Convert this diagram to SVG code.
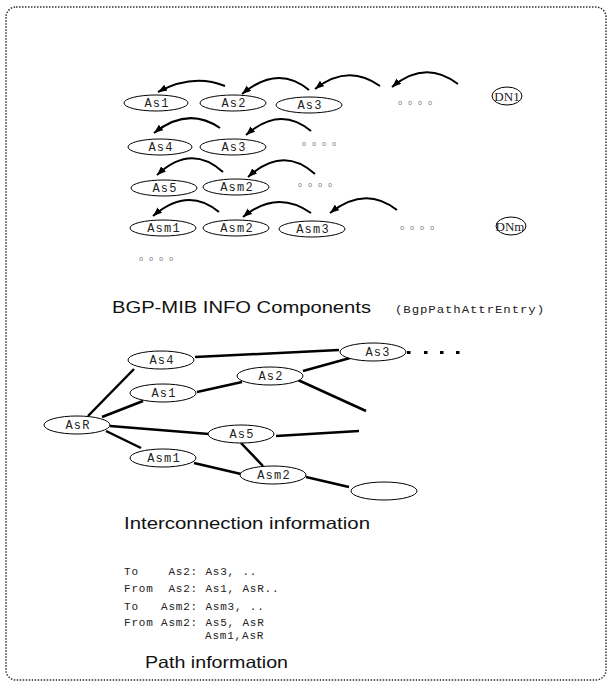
<svg xmlns="http://www.w3.org/2000/svg" width="610" height="686" viewBox="0 0 610 686">
  <style>
    .frame { fill: none; stroke: #333; stroke-width: 1.5; stroke-dasharray: 1.5 1.5; }
    .node { fill: #fff; stroke: #000; stroke-width: 1; }
    .lbl { font-family: "Liberation Mono", "DejaVu Sans Mono", monospace; font-size: 12px; letter-spacing: 1.2px; fill: #222; text-anchor: middle; }
    .dn { font-family: "Liberation Serif", "Times New Roman", serif; font-size: 13px; fill: #222; text-anchor: middle; }
    .more { font-family: "Liberation Mono", monospace; font-size: 7px; letter-spacing: 5.8px; fill: #777; }
    .title { font-family: "Liberation Sans", Arial, sans-serif; font-size: 16.5px; fill: #111; }
    .code { font-family: "Liberation Mono", "DejaVu Sans Mono", monospace; font-size: 11px; letter-spacing: 0.8px; fill: #222; white-space: pre; }
    .arc { fill: none; stroke: #000; stroke-width: 2; marker-end: url(#head); }
    .link { fill: none; stroke: #000; stroke-width: 2.5; }
  </style>
  <defs>
    <marker id="head" markerUnits="userSpaceOnUse" markerWidth="10" markerHeight="8" refX="9" refY="3.5" orient="auto">
      <path d="M0,0 L9,3.5 L0,7 z" fill="#000"/>
    </marker>
  </defs>

  <!-- outer dotted frame -->
  <rect class="frame" x="6" y="7" width="600" height="673" rx="10" ry="10"/>

  <!-- ===== BGP-MIB info components ===== -->
  <g id="components-arcs">
    <path class="arc" d="M225,86 Q193,73 158,92"/>
    <path class="arc" d="M309,90 Q278,64 242,94"/>
    <path class="arc" d="M380,86 Q348,63 315,89"/>
    <path class="arc" d="M458,84 Q425,59 392,87"/>
    <path class="arc" d="M220,128 Q188,106 154,133"/>
    <path class="arc" d="M311,131 Q280,105 246,135"/>
    <path class="arc" d="M223,172 Q191,143 157,175"/>
    <path class="arc" d="M315,174 Q283,145 248,177"/>
    <path class="arc" d="M219,212 Q188,186 153,216"/>
    <path class="arc" d="M311,213 Q277,189 243,217"/>
    <path class="arc" d="M397,210 Q365,185 330,213"/>
  </g>

  <g id="r1-as1"><ellipse class="node" cx="156" cy="103" rx="32" ry="8"/><text class="lbl" x="157" y="107">As1</text></g>
  <g id="r1-as2"><ellipse class="node" cx="233" cy="103" rx="33" ry="8"/><text class="lbl" x="234" y="107">As2</text></g>
  <g id="r1-as3"><ellipse class="node" cx="309" cy="105" rx="33" ry="8"/><text class="lbl" x="310" y="109">As3</text></g>
  <text class="more" x="398" y="105">oooo</text>
  <g id="r1-dn1"><ellipse class="node" cx="507" cy="96" rx="15" ry="9"/><text class="dn" x="507" y="100.5">DN1</text></g>

  <g id="r2-as4"><ellipse class="node" cx="160" cy="147" rx="32" ry="8"/><text class="lbl" x="161" y="151">As4</text></g>
  <g id="r2-as3"><ellipse class="node" cx="233" cy="147" rx="33" ry="8"/><text class="lbl" x="234" y="151">As3</text></g>
  <text class="more" x="302" y="146">oooo</text>

  <g id="r3-as5"><ellipse class="node" cx="164" cy="188" rx="33" ry="8"/><text class="lbl" x="165" y="192">As5</text></g>
  <g id="r3-asm2"><ellipse class="node" cx="236" cy="187" rx="33" ry="8"/><text class="lbl" x="237" y="191">Asm2</text></g>
  <text class="more" x="298" y="187">oooo</text>

  <g id="r4-asm1"><ellipse class="node" cx="163" cy="228" rx="33" ry="8"/><text class="lbl" x="164" y="232">Asm1</text></g>
  <g id="r4-asm2"><ellipse class="node" cx="236" cy="228" rx="33" ry="8"/><text class="lbl" x="237" y="232">Asm2</text></g>
  <g id="r4-asm3"><ellipse class="node" cx="312" cy="229" rx="33" ry="8"/><text class="lbl" x="313" y="233">Asm3</text></g>
  <text class="more" x="400" y="230">oooo</text>
  <g id="r4-dnm"><ellipse class="node" cx="511" cy="226" rx="15" ry="9"/><text class="dn" x="510" y="230.5">DNm</text></g>

  <text class="more" x="139" y="261">oooo</text>

  <text class="title" x="112" y="313" textLength="259" lengthAdjust="spacingAndGlyphs">BGP-MIB INFO Components</text>
  <text class="code" x="395" y="313" font-size="10.5" textLength="150" lengthAdjust="spacingAndGlyphs">(BgpPathAttrEntry)</text>

  <!-- ===== interconnection graph ===== -->
  <g id="links">
    <line class="link" x1="134" y1="369" x2="88" y2="416"/>
    <line class="link" x1="143" y1="401" x2="102" y2="417"/>
    <line class="link" x1="197" y1="392" x2="242" y2="382"/>
    <line class="link" x1="195" y1="357" x2="339" y2="350"/>
    <line class="link" x1="303" y1="371" x2="350" y2="358"/>
    <line class="link" x1="298" y1="380" x2="366" y2="411"/>
    <line class="link" x1="110" y1="426" x2="209" y2="434"/>
    <line class="link" x1="276" y1="436" x2="359" y2="431"/>
    <line class="link" x1="241" y1="443" x2="263" y2="466"/>
    <line class="link" x1="106" y1="431" x2="141" y2="448"/>
    <line class="link" x1="194" y1="463" x2="241" y2="474"/>
    <line class="link" x1="306" y1="477" x2="349" y2="487"/>
    <g fill="#000">
      <rect x="407" y="351" width="3.5" height="3"/>
      <rect x="424" y="351" width="3.5" height="3"/>
      <rect x="440" y="351" width="3.5" height="3"/>
      <rect x="456" y="351" width="3.5" height="3"/>
    </g>
  </g>

  <g id="as4"><ellipse class="node" cx="161" cy="360" rx="33" ry="9"/><text class="lbl" x="162" y="364">As4</text></g>
  <g id="as1"><ellipse class="node" cx="163" cy="393" rx="33" ry="9"/><text class="lbl" x="164" y="397">As1</text></g>
  <g id="as2"><ellipse class="node" cx="270" cy="376" rx="33" ry="9"/><text class="lbl" x="271" y="380">As2</text></g>
  <g id="as3"><ellipse class="node" cx="373" cy="352" rx="33" ry="9"/><text class="lbl" x="378" y="356">As3</text></g>
  <g id="asr"><ellipse class="node" cx="77" cy="425" rx="33" ry="9"/><text class="lbl" x="78" y="429">AsR</text></g>
  <g id="as5"><ellipse class="node" cx="241" cy="434" rx="33" ry="9"/><text class="lbl" x="242" y="438">As5</text></g>
  <g id="asm1"><ellipse class="node" cx="163" cy="458" rx="33" ry="9"/><text class="lbl" x="164" y="462">Asm1</text></g>
  <g id="asm2"><ellipse class="node" cx="273" cy="475" rx="33" ry="9"/><text class="lbl" x="274" y="479">Asm2</text></g>
  <g id="unnamed"><ellipse class="node" cx="384" cy="491" rx="33" ry="9"/></g>

  <text class="title" x="124" y="529" textLength="246" lengthAdjust="spacingAndGlyphs">Interconnection information</text>

  <!-- ===== path information ===== -->
  <g id="paths">
    <text class="code" x="124" y="575">To    As2: As3, ..</text>
    <text class="code" x="124" y="592">From  As2: As1, AsR..</text>
    <text class="code" x="124" y="610">To   Asm2: Asm3, ..</text>
    <text class="code" x="124" y="626">From Asm2: As5, AsR</text>
    <text class="code" x="205" y="639">Asm1,AsR</text>
  </g>
  <text class="title" x="145" y="668" textLength="143" lengthAdjust="spacingAndGlyphs">Path information</text>
</svg>
